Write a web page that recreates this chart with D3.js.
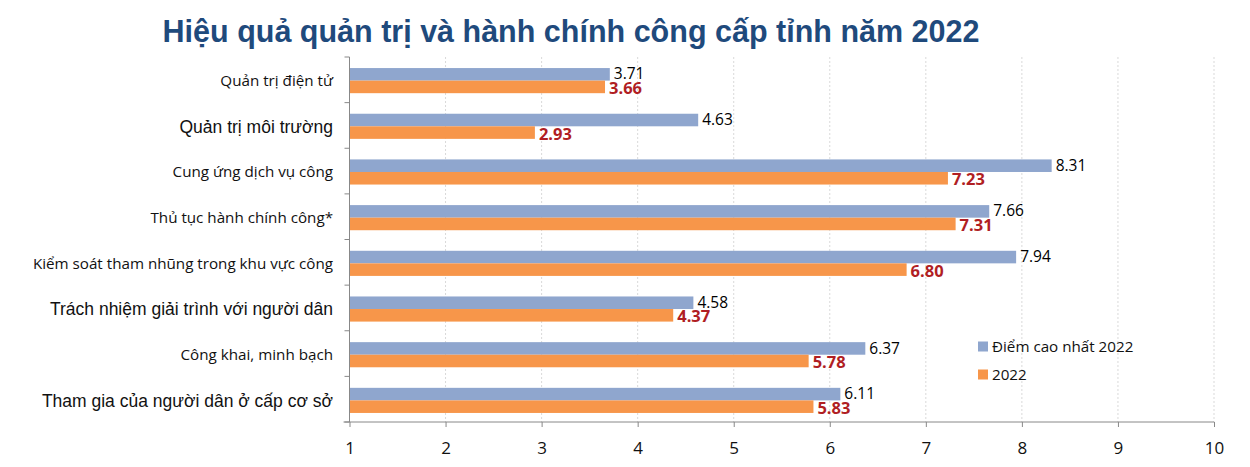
<!DOCTYPE html>
<html><head><meta charset="utf-8">
<script src="https://cdn.jsdelivr.net/npm/d3@7"></script>
<style>
body{margin:0;background:#fff;}
svg{display:block;}
</style></head>
<body><svg id="c" width="1250" height="467"></svg>
<script>
const categories = [
  "Quản trị điện tử",
  "Quản trị môi trường",
  "Cung ứng dịch vụ công",
  "Thủ tục hành chính công*",
  "Kiểm soát tham nhũng trong khu vực công",
  "Trách nhiệm giải trình với người dân",
  "Công khai, minh bạch",
  "Tham gia của người dân ở cấp cơ sở"
];
const bestValues = [3.71, 4.63, 8.31, 7.66, 7.94, 4.58, 6.37, 6.11];
const values2022 = [3.66, 2.93, 7.23, 7.31, 6.80, 4.37, 5.78, 5.83];
const seriesNames = ["Điểm cao nhất 2022", "2022"];
const xTicks = [1,2,3,4,5,6,7,8,9,10];
const largeLabels = new Set([1,5,7]);

const svg = d3.select("#c");
const margin = {left:349.5, right:1214, top:57, bottom:422};
const x = d3.scaleLinear().domain([1,10]).range([margin.left, margin.right]);
const y = d3.scaleBand().domain(categories).range([margin.top, margin.bottom]).paddingInner(0.45).paddingOuter(0.22).align(0.55);
const sub = d3.scaleBand().domain(seriesNames).range([0, y.bandwidth()]);
const colors = ["#8FA6CE", "#F7964A"];

// title
svg.append("text").attr("x", 571).attr("y", 42).attr("text-anchor","middle")
  .attr("font-family","'Liberation Sans', Arial, sans-serif").attr("font-weight","bold")
  .attr("font-size", 30.5).attr("fill","#1F4A7C")
  .text("Hiệu quả quản trị và hành chính công cấp tỉnh năm 2022");

// gridlines
svg.append("g").selectAll("line").data(xTicks.slice(1)).join("line")
  .attr("x1", d=>x(d)).attr("x2", d=>x(d)).attr("y1", margin.top).attr("y2", margin.bottom)
  .attr("stroke","#d9d9d9").attr("stroke-dasharray","2,2").attr("stroke-width",1);

// bars
const rows = categories.map((c,i)=>({c, v:[bestValues[i], values2022[i]]}));
const g = svg.append("g");
rows.forEach((r)=>{
  r.v.forEach((v,j)=>{
    g.append("rect").attr("x", x(1)).attr("y", y(r.c)+sub(seriesNames[j]))
      .attr("width", x(v)-x(1)).attr("height", sub.bandwidth()).attr("fill", colors[j]);
    const t = g.append("text").attr("x", x(v)+4).attr("y", y(r.c)+sub(seriesNames[j])+sub.bandwidth()/2 + (j===0?-0.5:1))
      .attr("dy","0.36em").attr("font-family","'Open Sans', sans-serif")
      .text(v.toFixed(2));
    if(j===0){ t.attr("font-size",15.5).attr("fill","#000"); }
    else { t.attr("font-size",16.5).attr("font-weight","bold").attr("fill","#B01E23"); }
  });
});

// y axis
svg.append("line").attr("x1",x(1)).attr("x2",x(1)).attr("y1",margin.top).attr("y2",margin.bottom)
  .attr("stroke","#888");
const tickYs = d3.range(categories.length+1).map(i=>margin.top + i*(margin.bottom-margin.top)/categories.length);
svg.append("g").selectAll("line").data(tickYs).join("line")
  .attr("x1",x(1)-5).attr("x2",x(1)).attr("y1",d=>d).attr("y2",d=>d).attr("stroke","#888");

// category labels
svg.append("g").selectAll("text").data(categories).join("text")
  .attr("x", 333).attr("y", c=>y(c)+y.bandwidth()/2).attr("dy","0.36em")
  .attr("text-anchor","end")
  .attr("font-family",(c,i)=> largeLabels.has(i) ? "'Liberation Sans', Arial, sans-serif" : "'Open Sans', sans-serif")
  .attr("font-size",(c,i)=> largeLabels.has(i) ? 17.5 : 15.2)
  .attr("fill","#111")
  .text(c=>c);

// x axis
const xAxis = d3.axisBottom(x).tickValues(xTicks).tickSize(5).tickPadding(15).tickFormat(d3.format("d"));
const xa = svg.append("g").attr("transform",`translate(0,${margin.bottom})`).call(xAxis);
xa.select(".domain").attr("stroke","#888").attr("d", `M${x(1)-6},0H${x(10)}`);
xa.selectAll(".tick line").attr("stroke","#888");
xa.selectAll(".tick text").attr("font-family","'Open Sans', sans-serif").attr("font-size",17).attr("fill","#111");

// legend
const lg = svg.append("g");
seriesNames.forEach((s,i)=>{
  const ly = 346.5 + i*28;
  lg.append("rect").attr("x",978).attr("y",ly-5).attr("width",10).attr("height",10).attr("fill",colors[i]);
  lg.append("text").attr("x",992).attr("y",ly).attr("dy","0.36em")
    .attr("font-family","'Open Sans', sans-serif").attr("font-size",15.2).attr("fill","#111").text(s);
});
</script></body></html>
